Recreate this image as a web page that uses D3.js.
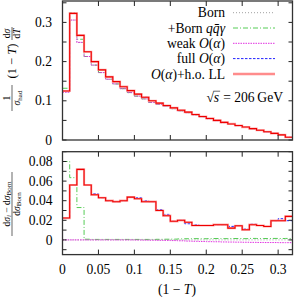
<!DOCTYPE html>
<html><head><meta charset="utf-8">
<script src="https://cdn.jsdelivr.net/npm/d3@7"></script>
<style>
body{margin:0;background:#fff}
svg{display:block}
text{font-family:"Liberation Serif","DejaVu Serif",serif;fill:#000}
</style>
</head><body>
<svg id="chart" width="295" height="297"></svg>
<script>
// bins of (1-T), width 0.01
var bins = [0,0.01,0.02,0.03,0.04,0.05,0.06,0.07,0.08,0.09,0.10,0.11,0.12,0.13,0.14,0.15,
            0.16,0.17,0.18,0.19,0.20,0.21,0.22,0.23,0.24,0.25,0.26,0.27,0.28,0.29,0.30,0.31];
var binW = 0.01;

// upper panel: 1/sigma (1-T) dsigma/dT
var bornUp = [0.122,0.306,0.249,0.213,0.191,0.172,0.155,0.143,0.131,0.121,0.112,0.105,0.096,0.091,0.086,0.080,
              0.0745,0.0697,0.064,0.0591,0.0542,0.0492,0.0443,0.0405,0.0365,0.0327,0.0286,0.0246,0.0207,0.0167,0.0127,0.0068];
var qqgUp  = [0.132,0.325,0.257,0.213,0.191,0.172,0.155,0.143,0.131,0.121,0.112,0.105,0.096,0.091,0.086,0.080,
              0.0746,0.0698,0.0641,0.0592,0.0543,0.0493,0.0444,0.0406,0.0366,0.0328,0.0287,0.0247,0.0208,0.0167,0.0127,0.0068];
var weakUp = [0.122,0.306,0.249,0.213,0.191,0.172,0.155,0.143,0.131,0.121,0.112,0.105,0.096,0.091,0.086,0.080,
              0.0744,0.0696,0.0639,0.059,0.0541,0.0491,0.0442,0.0404,0.0364,0.0326,0.0285,0.0245,0.0206,0.0166,0.0127,0.0068];
var fullUp = [0.125,0.323,0.267,0.225,0.200,0.179,0.161,0.149,0.136,0.126,0.117,0.109,0.100,0.094,0.088,0.082,
              0.076,0.071,0.065,0.060,0.055,0.050,0.045,0.041,0.037,0.033,0.029,0.025,0.021,0.017,0.013,0.007];
var llUp   = [0.125,0.323,0.267,0.225,0.200,0.179,0.161,0.149,0.136,0.126,0.117,0.109,0.100,0.094,0.088,0.082,
              0.076,0.071,0.065,0.060,0.055,0.050,0.045,0.041,0.037,0.033,0.029,0.025,0.021,0.017,0.013,0.007];

// lower panel: (dsigma_i - dsigma_Born)/dsigma_Born
var bornRel = [0,0,0,0,0,0,0,0,0,0,0,0,0,0,0,0,0,0,0,0,0,0,0,0,0,0,0,0,0,0,0,0];
var qqgRel  = [0.080,0.0635,0.033,0.0007,0.0005,0.0005,0.0005,0.0005,0.0005,0.0005,0.0005,0.0005,0.0005,0.0006,0.0007,0.0008,
               0.0010,0.0012,0.0013,0.0012,0.0013,0.0014,0.0013,0.0014,0.0014,0.0013,0.0015,0.0014,0.0014,0.0015,0.0014,0.0015];
var weakRel = [0,0,0,0,0,0,0,0,0,0,-0.0001,-0.0002,-0.0003,-0.0004,-0.0005,-0.0007,
               -0.0009,-0.0012,-0.0014,-0.0016,-0.0018,-0.0019,-0.0021,-0.0022,-0.0023,-0.0024,-0.0025,-0.0026,-0.0027,-0.0027,-0.0028,-0.0028];
var fullRel = [0.0223,0.056,0.072,0.056,0.047,0.043,0.040,0.039,0.040,0.044,0.043,0.040,0.039,0.031,0.026,0.019,
               0.020,0.0165,0.0154,0.0147,0.0147,0.0155,0.0155,0.0138,0.0144,0.011,0.016,0.0147,0.0137,0.0196,0.0216,0.0196];
var llRel   = [0.0223,0.056,0.072,0.056,0.046,0.043,0.040,0.039,0.040,0.0436,0.042,0.039,0.039,0.030,0.0247,0.019,
               0.020,0.018,0.0147,0.0147,0.0147,0.0155,0.0155,0.012,0.0144,0.0103,0.0155,0.0147,0.0137,0.0196,0.0196,0.024];

var xTicks = [0,0.05,0.1,0.15,0.2,0.25,0.3];
var xTickLabels = ["0","0.05","0.1","0.15","0.2","0.25","0.3"];
var upTicks = [0,0.05,0.1,0.15,0.2,0.25,0.3,0.35];
var upLabels = [0,0.1,0.2,0.3];
var loTicks = [-0.01,0,0.01,0.02,0.03,0.04,0.05,0.06,0.07,0.08,0.09];
var loLabels = [0,0.02,0.04,0.06,0.08];

var series = [
  {name:"Born", up:bornUp, rel:bornRel, color:"#a0a0a0", dash:"1,2", w:1},
  {name:"qqg", up:qqgUp, rel:qqgRel, color:"#55cc55", dash:"5,2,1,2", w:1},
  {name:"weak", up:weakUp, rel:weakRel, color:"#e030e0", dash:"1.5,1", w:1},
  {name:"full", up:fullUp, rel:fullRel, color:"#2222ff", dash:"2.5,1.5", w:1},
  {name:"ll", up:llUp, rel:llRel, color:"#ee0000", dash:null, w:1.1}
];

var FS = 13.6;
var svg = d3.select("#chart");
var L = 62.5, R = 292.5;
var x = d3.scaleLinear().domain([0,0.32]).range([L,R]);
var yUp = d3.scaleLinear().domain([0,0.3546]).range([140,1]);
var yLo = d3.scaleLinear().domain([-0.015,0.09]).range([254.6,151.7]);

function stepPts(vals){
  var p = vals.map(function(v,i){ return [bins[i], v]; });
  p.push([bins[bins.length-1]+binW, vals[vals.length-1]]);
  return p;
}

function panel(y, key, ticks, clipId){
  var t = y.range();
  var top = t[1], bot = t[0];
  svg.append("clipPath").attr("id",clipId).append("rect")
     .attr("x",L).attr("y",top).attr("width",R-L).attr("height",bot-top);
  var g = svg.append("g").attr("clip-path","url(#"+clipId+")");
  var line = d3.line().x(function(d){return x(d[0]);}).y(function(d){return y(d[1]);}).curve(d3.curveStepAfter);
  series.forEach(function(s){
    if (s.name=="ll"){
      g.append("path").attr("d",line(stepPts(s[key]))).attr("fill","none")
       .attr("stroke","#ffaaaa").attr("stroke-width",2.2);
    }
    g.append("path").attr("d",line(stepPts(s[key]))).attr("fill","none")
     .attr("stroke",s.color).attr("stroke-width",s.w)
     .attr("stroke-dasharray",s.dash);
  });
  // ticks (inward, mirrored)
  var tk = svg.append("g").attr("stroke","#222").attr("stroke-width",1);
  xTicks.forEach(function(v){
    tk.append("line").attr("x1",x(v)).attr("x2",x(v)).attr("y1",bot).attr("y2",bot-5);
    tk.append("line").attr("x1",x(v)).attr("x2",x(v)).attr("y1",top).attr("y2",top+5);
  });
  ticks.forEach(function(v){
    tk.append("line").attr("x1",L).attr("x2",L+4).attr("y1",y(v)).attr("y2",y(v));
    tk.append("line").attr("x1",R).attr("x2",R-4).attr("y1",y(v)).attr("y2",y(v));
  });
  svg.append("rect").attr("x",L).attr("y",top).attr("width",R-L).attr("height",bot-top)
     .attr("fill","none").attr("stroke","#333").attr("stroke-width",1.3);
}

panel(yUp, "up", upTicks, "clipUp");
panel(yLo, "rel", loTicks, "clipLo");

// tick labels
upLabels.forEach(function(v){
  svg.append("text").attr("x",52).attr("y",yUp(v)+4.6).attr("text-anchor","end")
     .attr("font-size",FS).text(v==0?"0":v.toFixed(1));
});
loLabels.forEach(function(v){
  svg.append("text").attr("x",52.5).attr("y",yLo(v)+4.6).attr("text-anchor","end")
     .attr("font-size",FS).text(v==0?"0":v.toFixed(2));
});
xTicks.forEach(function(v,i){
  svg.append("text").attr("x",x(v)).attr("y",273.5).attr("text-anchor","middle")
     .attr("font-size",FS).text(xTickLabels[i]);
});

// x axis title
var xt = svg.append("text").attr("x",177).attr("y",293.5).attr("text-anchor","middle").attr("font-size",FS);
xt.append("tspan").text("(1 \u2212 ");
xt.append("tspan").attr("font-style","italic").text("T");
xt.append("tspan").text(")");

// upper y label (rotated)
var yl = svg.append("g").attr("transform","translate(12,70) rotate(-90)");
yl.append("text").attr("x",-28).attr("y",-2.5).attr("text-anchor","middle").attr("font-size",9.5).text("1");
yl.append("line").attr("x1",-41).attr("x2",-15).attr("y1",0).attr("y2",0).attr("stroke","#000").attr("stroke-width",0.6);
var d1 = yl.append("text").attr("x",-28).attr("y",8).attr("text-anchor","middle").attr("font-size",9.5);
d1.append("tspan").attr("font-style","italic").text("\u03c3");
d1.append("tspan").attr("font-size",7).attr("dy",1.5).text("had");
var mid = yl.append("text").attr("x",9).attr("y",4).attr("text-anchor","middle").attr("font-size",12.5);
mid.append("tspan").text("(1 \u2212 ");
mid.append("tspan").attr("font-style","italic").text("T");
mid.append("tspan").text(")");
var n2 = yl.append("text").attr("x",36.5).attr("y",-2.5).attr("text-anchor","middle").attr("font-size",9.5);
n2.append("tspan").text("d");
n2.append("tspan").attr("font-style","italic").text("\u03c3");
yl.append("line").attr("x1",30).attr("x2",43).attr("y1",0).attr("y2",0).attr("stroke","#000").attr("stroke-width",0.6);
var dd2 = yl.append("text").attr("x",36.5).attr("y",8).attr("text-anchor","middle").attr("font-size",9.5);
dd2.append("tspan").text("d");
dd2.append("tspan").attr("font-style","italic").text("T");

// lower y label (rotated)
var yl2 = svg.append("g").attr("transform","translate(12,204) rotate(-90)");
var nu = yl2.append("text").attr("x",0).attr("y",-2.5).attr("text-anchor","middle").attr("font-size",9.5);
nu.append("tspan").text("d");
nu.append("tspan").attr("font-style","italic").text("\u03c3");
nu.append("tspan").attr("font-size",7).attr("font-style","italic").attr("dy",1.5).text("i");
nu.append("tspan").attr("dy",-1.5).text(" \u2212 d");
nu.append("tspan").attr("font-style","italic").text("\u03c3");
nu.append("tspan").attr("font-size",7).attr("dy",1.5).text("Born");
yl2.append("line").attr("x1",-32).attr("x2",32).attr("y1",0).attr("y2",0).attr("stroke","#000").attr("stroke-width",0.6);
var de = yl2.append("text").attr("x",0).attr("y",7.8).attr("text-anchor","middle").attr("font-size",9.5);
de.append("tspan").text("d");
de.append("tspan").attr("font-style","italic").text("\u03c3");
de.append("tspan").attr("font-size",7).attr("dy",1.5).text("Born");

// legend
var legY = [12.7, 28, 43.3, 58.6, 74];
var legText = [
  [["Born",""]],
  [["+Born ",""],["qq\u0304","i"],["\u03b3","i"]],
  [["weak ",""],["O","i"],["(",""],["\u03b1","i"],[")",""]],
  [["full ",""],["O","i"],["(",""],["\u03b1","i"],[")",""]],
  [["O","i"],["(",""],["\u03b1","i"],[")+h.o. LL",""]]
];
series.forEach(function(s,i){
  var ly = legY[i];
  var t = svg.append("text").attr("x",225).attr("y",ly+4.5).attr("text-anchor","end").attr("font-size",FS);
  legText[i].forEach(function(p){
    var ts = t.append("tspan").text(p[0]);
    if (p[1]=="i") ts.attr("font-style","italic");
  });
  if (s.name=="ll"){
    svg.append("line").attr("x1",233).attr("x2",275).attr("y1",ly).attr("y2",ly)
       .attr("stroke","#ff8c8c").attr("stroke-width",2.6);
  } else {
    svg.append("line").attr("x1",233).attr("x2",275).attr("y1",ly).attr("y2",ly)
       .attr("stroke",s.color).attr("stroke-width",s.w).attr("stroke-dasharray",s.dash);
  }
});

// sqrt(s) = 206 GeV
var eq = svg.append("text").attr("x",283).attr("y",101.7).attr("text-anchor","end").attr("font-size",FS)
            .text("= 206\u2009GeV");
var eqStart = 283 - eq.node().getComputedTextLength();
var sT = svg.append("text").attr("x",eqStart-4).attr("y",101.7).attr("text-anchor","end")
            .attr("font-size",FS).attr("font-style","italic").text("s");
var sW = sT.node().getComputedTextLength();
svg.append("text").attr("x",eqStart-4-sW).attr("y",101.7).attr("text-anchor","end")
   .attr("font-size",FS).text("\u221a");
svg.append("line").attr("x1",eqStart-4-sW-0.5).attr("x2",eqStart-3).attr("y1",91.2).attr("y2",91.2)
   .attr("stroke","#000").attr("stroke-width",0.6);
</script>
</body></html>
